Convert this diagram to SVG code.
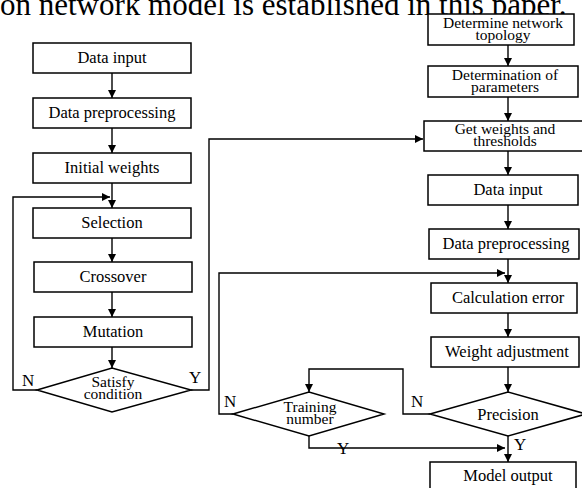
<svg xmlns="http://www.w3.org/2000/svg" width="582" height="488" viewBox="0 0 582 488">
<defs>
<marker id="ah" viewBox="0 0 10 10" refX="10" refY="5" markerWidth="8" markerHeight="8" markerUnits="userSpaceOnUse" orient="auto">
<path d="M0,0 L10,5 L0,10 z" fill="#000"/>
</marker>
</defs>
<style>
.b{fill:#fff;stroke:#000;stroke-width:1.5}
.t{font-family:"Liberation Serif","Times New Roman",serif;font-size:16.5px;fill:#000;text-anchor:middle}
.s{font-family:"Liberation Serif","Times New Roman",serif;font-size:15.5px;fill:#000;text-anchor:middle}
.l{font-family:"Liberation Serif","Times New Roman",serif;font-size:17px;fill:#000}
.c{fill:none;stroke:#000;stroke-width:1.4}
.a{marker-end:url(#ah)}
</style>
<rect width="582" height="488" fill="#fff"/>
<text x="0" y="15" font-family="Liberation Serif, serif" font-size="31" fill="#000">on network model is established in this paper.</text>

<g id="connectors">
<path class="c a" d="M112,73V98"/>
<path class="c a" d="M112,128V153"/>
<path class="c a" d="M112,183V208"/>
<path class="c a" d="M112,238V262"/>
<path class="c a" d="M112,292V317"/>
<path class="c a" d="M112,347V368"/>
<path class="c a" d="M37,390H13V197H110"/>
<path class="c a" d="M191,390H209V139H423"/>
<path class="c a" d="M508,45V66"/>
<path class="c a" d="M508,97V121"/>
<path class="c a" d="M508,151V175"/>
<path class="c a" d="M508,205V229"/>
<path class="c a" d="M508,259V283"/>
<path class="c a" d="M233,414H219V273H505"/>
<path class="c a" d="M508,313V337"/>
<path class="c a" d="M508,367V392"/>
<path class="c a" d="M430,414H403V369H309V392"/>
<path class="c a" d="M309,436V448H505"/>
<path class="c a" d="M508,436V462"/>
</g>

<g id="n-data-input"><rect class="b" x="33" y="43" width="158" height="30"/><text class="t" x="112" y="63">Data input</text></g>
<g id="n-data-pre"><rect class="b" x="33" y="98" width="158" height="30"/><text class="t" x="112" y="118">Data preprocessing</text></g>
<g id="n-init"><rect class="b" x="33" y="153" width="158" height="30"/><text class="t" x="112" y="173">Initial weights</text></g>
<g id="n-sel"><rect class="b" x="33" y="208" width="158" height="30"/><text class="t" x="112" y="228">Selection</text></g>
<g id="n-cross"><rect class="b" x="34" y="262" width="158" height="30"/><text class="t" x="113" y="282">Crossover</text></g>
<g id="n-mut"><rect class="b" x="34" y="317" width="158" height="30"/><text class="t" x="113" y="337">Mutation</text></g>
<g id="n-satisfy"><path class="b" d="M37,390L112,368L191,390L112,412Z"/><text class="s" x="113" y="387">Satisfy</text><text class="s" x="113" y="399">condition</text></g>
<text class="l" x="22" y="386">N</text>
<text class="l" x="189" y="383">Y</text>

<g id="n-topology"><rect class="b" x="428" y="14" width="146" height="31"/><text class="s" x="503" y="28">Determine network</text><text class="s" x="503" y="40">topology</text></g>
<g id="n-params"><rect class="b" x="428" y="66" width="150" height="31"/><text class="s" x="505" y="80">Determination of</text><text class="s" x="505" y="92">parameters</text></g>
<g id="n-getw"><rect class="b" x="424" y="121" width="160" height="30"/><text class="s" x="505" y="134">Get weights and</text><text class="s" x="505" y="146">thresholds</text></g>
<g id="n-r-input"><rect class="b" x="428" y="175" width="150" height="30"/><text class="t" x="508" y="195">Data input</text></g>
<g id="n-r-pre"><rect class="b" x="429" y="229" width="150" height="30"/><text class="t" x="506" y="249">Data preprocessing</text></g>
<g id="n-calc"><rect class="b" x="431" y="283" width="146" height="30"/><text class="t" x="508" y="303">Calculation error</text></g>
<g id="n-adj"><rect class="b" x="431" y="337" width="148" height="30"/><text class="t" x="507" y="357">Weight adjustment</text></g>
<g id="n-precision"><path class="b" d="M430,414L508,392L586,414L508,436Z"/><text class="t" x="508" y="420">Precision</text></g>
<g id="n-training"><path class="b" d="M233,414L309,392L384,414L309,436Z"/><text class="s" x="310" y="412">Training</text><text class="s" x="310" y="424">number</text></g>
<g id="n-output"><rect class="b" x="430" y="462" width="146" height="34"/><text class="t" x="508" y="481">Model output</text></g>
<text class="l" x="224" y="407">N</text>
<text class="l" x="411" y="407">N</text>
<text class="l" x="337" y="454">Y</text>
<text class="l" x="514" y="450">Y</text>
</svg>
